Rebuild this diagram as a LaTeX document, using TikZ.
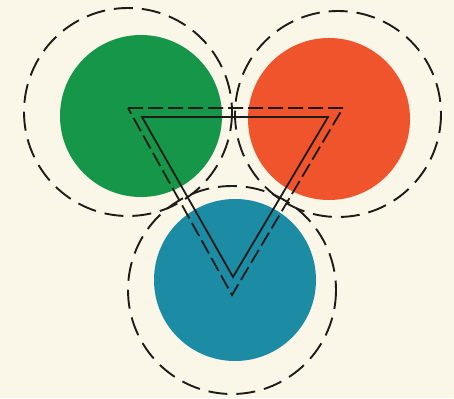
\documentclass[tikz,border=0pt]{standalone}
\definecolor{bgcream}{RGB}{250,246,232}
\definecolor{dgreen}{RGB}{22,150,72}
\definecolor{dred}{RGB}{240,84,44}
\definecolor{dblue}{RGB}{28,140,165}
\definecolor{ink}{RGB}{30,28,26}
\begin{document}
\begin{tikzpicture}[x=1pt,y=-1pt,
  disc/.style={line width=0pt},
  halo/.style={draw=ink,line width=1.9pt,dash pattern=on 19pt off 9pt},
  trisolid/.style={draw=ink,line width=1.8pt,line join=miter},
  tridash/.style={draw=ink,line width=1.8pt,dash pattern=on 15pt off 5pt,line join=miter}]
\fill[bgcream] (0,0) rectangle (454,398);
\useasboundingbox (0,0) rectangle (454,398);
% centres
\coordinate (g) at (141,116);
\coordinate (r) at (329,119);
\coordinate (b) at (235,280);
\coordinate (gh) at (128,112);
\coordinate (rh) at (338,114);
\coordinate (bh) at (232,290);
% discs
\fill[dgreen,disc] (g) circle (81);
\fill[dred,disc] (r) circle (81);
\fill[dblue,disc] (b) circle (81);
% dashed halos
\draw[halo] (gh) circle (104);
\draw[halo] (rh) circle (103);
\draw[halo] (bh) circle (104);
% triangles
\coordinate (o1) at (128,108);
\coordinate (o2) at (343,108);
\coordinate (o3) at (232,295);
\coordinate (i1) at (142,117);
\coordinate (i2) at (328,117);
\coordinate (i3) at (233,277);
\draw[tridash] (o1) -- (o2) -- (o3) -- cycle;
\draw[trisolid] (i1) -- (i2) -- (i3) -- cycle;
\end{tikzpicture}
\end{document}
